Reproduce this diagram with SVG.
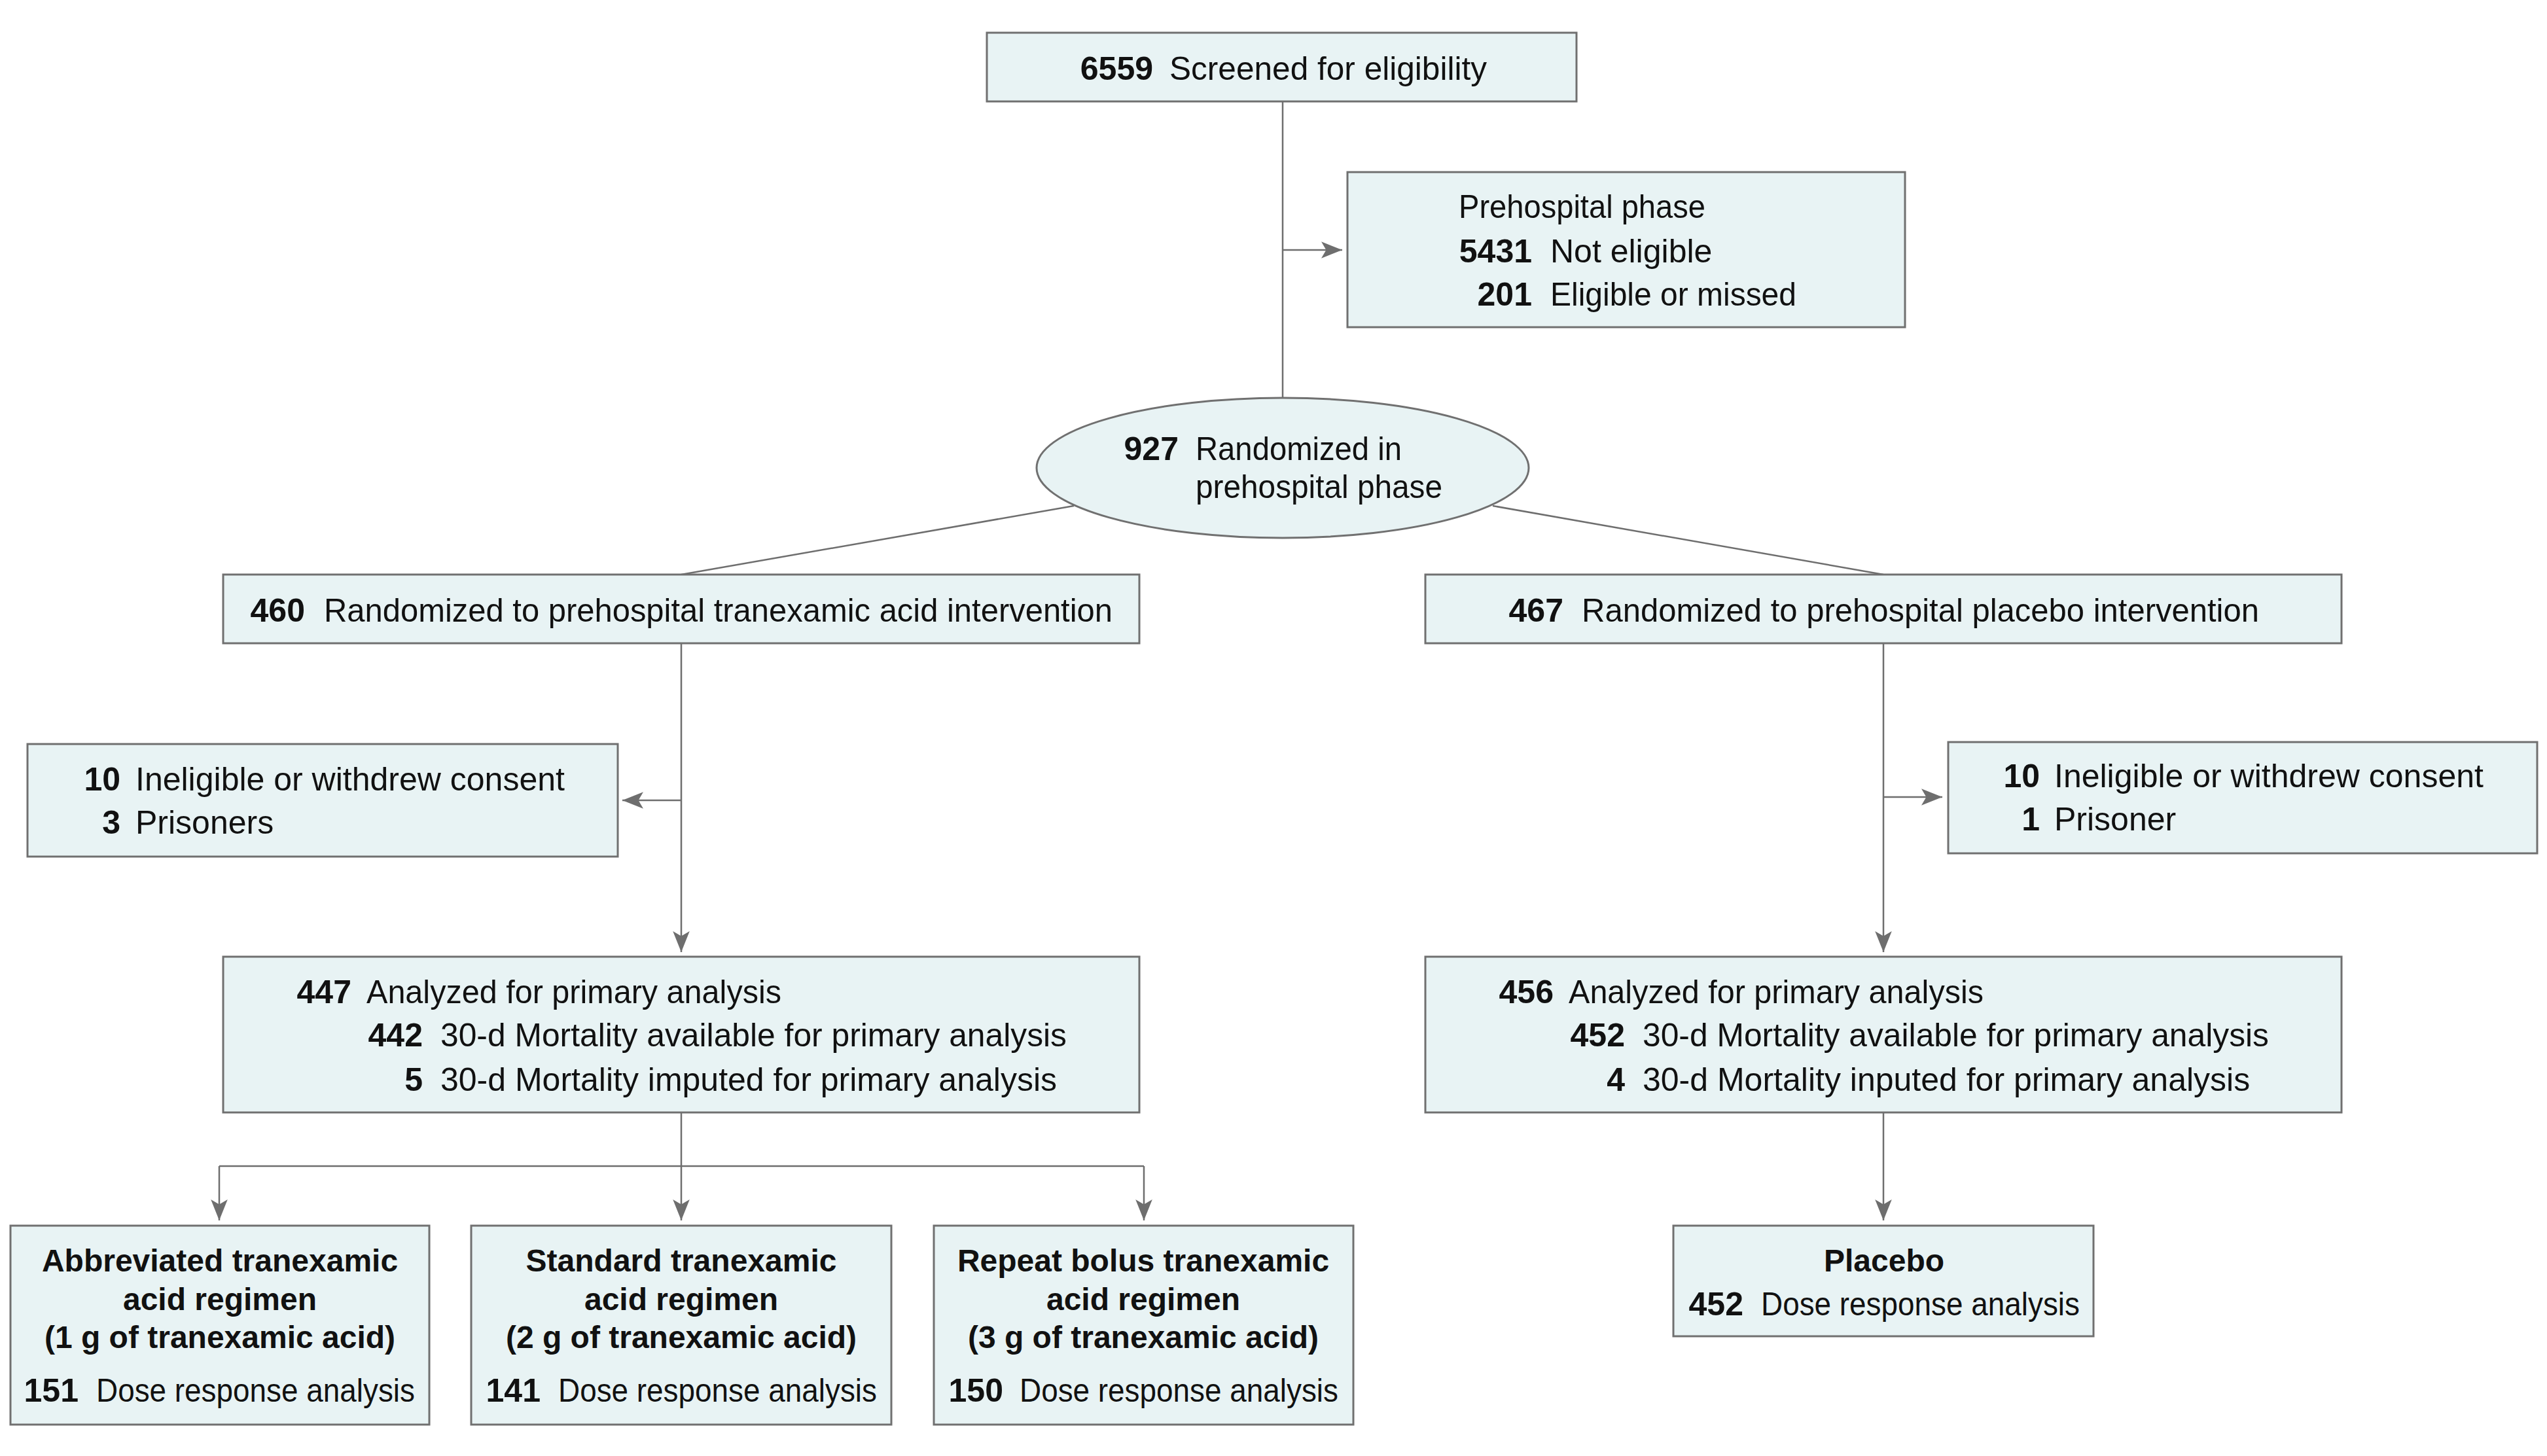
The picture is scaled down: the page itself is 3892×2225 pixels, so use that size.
<svg xmlns="http://www.w3.org/2000/svg" width="3892" height="2225" viewBox="0 0 3892 2225">
<style>
  .box { fill: #e8f3f4; stroke: #707070; stroke-width: 3; }
  .con { fill: none; stroke: #6e6e6e; stroke-width: 2.5; }
  text { font-family: "Liberation Sans", Arial, sans-serif; font-size: 50px; fill: #111; }
  .n { font-weight: bold; text-anchor: end; }
  .b { font-weight: bold; font-size: 48px; text-anchor: middle; }
</style>
<defs>
  <marker id="arr" markerUnits="userSpaceOnUse" markerWidth="32" markerHeight="26" viewBox="0 0 30 24" refX="30" refY="12" orient="auto">
    <path d="M0,0 L30,12 L0,24 L7,12 Z" fill="#6e6e6e"/>
  </marker>
</defs>
<rect width="3892" height="2225" fill="#ffffff"/>
<g id="connectors">
  <line class="con" x1="1960" y1="155" x2="1960" y2="608"/>
  <line class="con" x1="1960" y1="382" x2="2051" y2="382" marker-end="url(#arr)"/>
  <line class="con" x1="1641" y1="773" x2="1041" y2="878"/>
  <line class="con" x1="2281" y1="773" x2="2878" y2="878"/>
  <line class="con" x1="1041" y1="983" x2="1041" y2="1455" marker-end="url(#arr)"/>
  <line class="con" x1="1041" y1="1223" x2="951" y2="1223" marker-end="url(#arr)"/>
  <line class="con" x1="2878" y1="983" x2="2878" y2="1455" marker-end="url(#arr)"/>
  <line class="con" x1="2878" y1="1218" x2="2968" y2="1218" marker-end="url(#arr)"/>
  <line class="con" x1="1041" y1="1700" x2="1041" y2="1782"/>
  <line class="con" x1="335" y1="1782" x2="1748" y2="1782"/>
  <line class="con" x1="335" y1="1782" x2="335" y2="1865" marker-end="url(#arr)"/>
  <line class="con" x1="1041" y1="1782" x2="1041" y2="1865" marker-end="url(#arr)"/>
  <line class="con" x1="1748" y1="1782" x2="1748" y2="1865" marker-end="url(#arr)"/>
  <line class="con" x1="2878" y1="1700" x2="2878" y2="1865" marker-end="url(#arr)"/>
</g>
<g id="screened">
  <rect class="box" x="1508" y="50" width="901" height="105"/>
  <text class="n" x="1762" y="122">6559</text>
  <text x="1787" y="122" textLength="485" lengthAdjust="spacingAndGlyphs">Screened for eligibility</text>
</g>
<g id="prehospital-excluded">
  <rect class="box" x="2059" y="263" width="852" height="237"/>
  <text x="2229" y="333" textLength="377" lengthAdjust="spacingAndGlyphs">Prehospital phase</text>
  <text class="n" x="2341" y="401">5431</text>
  <text x="2369" y="401">Not eligible</text>
  <text class="n" x="2341" y="467">201</text>
  <text x="2369" y="467" textLength="376" lengthAdjust="spacingAndGlyphs">Eligible or missed</text>
</g>
<g id="randomized">
  <ellipse class="box" cx="1960" cy="715" rx="376" ry="107"/>
  <text class="n" x="1801" y="703">927</text>
  <text x="1827" y="703" textLength="315" lengthAdjust="spacingAndGlyphs">Randomized in</text>
  <text x="1827" y="761" textLength="377" lengthAdjust="spacingAndGlyphs">prehospital phase</text>
</g>
<g id="txa-arm">
  <rect class="box" x="341" y="878" width="1400" height="105"/>
  <text class="n" x="466" y="950">460</text>
  <text x="495" y="950" textLength="1205" lengthAdjust="spacingAndGlyphs">Randomized to prehospital tranexamic acid intervention</text>
</g>
<g id="placebo-arm">
  <rect class="box" x="2178" y="878" width="1400" height="105"/>
  <text class="n" x="2389" y="950">467</text>
  <text x="2417" y="950" textLength="1035" lengthAdjust="spacingAndGlyphs">Randomized to prehospital placebo intervention</text>
</g>
<g id="txa-excluded">
  <rect class="box" x="42" y="1137" width="902" height="172"/>
  <text class="n" x="184" y="1208">10</text>
  <text x="207" y="1208">Ineligible or withdrew consent</text>
  <text class="n" x="184" y="1274">3</text>
  <text x="207" y="1274">Prisoners</text>
</g>
<g id="placebo-excluded">
  <rect class="box" x="2977" y="1134" width="900" height="170"/>
  <text class="n" x="3117" y="1203">10</text>
  <text x="3139" y="1203">Ineligible or withdrew consent</text>
  <text class="n" x="3117" y="1269">1</text>
  <text x="3139" y="1269">Prisoner</text>
</g>
<g id="txa-analyzed">
  <rect class="box" x="341" y="1462" width="1400" height="238"/>
  <text class="n" x="537" y="1533">447</text>
  <text x="560" y="1533" textLength="634" lengthAdjust="spacingAndGlyphs">Analyzed for primary analysis</text>
  <text class="n" x="646" y="1599">442</text>
  <text x="673" y="1599" textLength="957" lengthAdjust="spacingAndGlyphs">30-d Mortality available for primary analysis</text>
  <text class="n" x="646" y="1667">5</text>
  <text x="673" y="1667">30-d Mortality imputed for primary analysis</text>
</g>
<g id="placebo-analyzed">
  <rect class="box" x="2178" y="1462" width="1400" height="238"/>
  <text class="n" x="2374" y="1533">456</text>
  <text x="2397" y="1533" textLength="634" lengthAdjust="spacingAndGlyphs">Analyzed for primary analysis</text>
  <text class="n" x="2483" y="1599">452</text>
  <text x="2510" y="1599" textLength="957" lengthAdjust="spacingAndGlyphs">30-d Mortality available for primary analysis</text>
  <text class="n" x="2483" y="1667">4</text>
  <text x="2510" y="1667">30-d Mortality inputed for primary analysis</text>
</g>
<g id="abbreviated">
  <rect class="box" x="16" y="1873" width="640" height="304"/>
  <text class="b" x="336" y="1943">Abbreviated tranexamic</text>
  <text class="b" x="336" y="2002">acid regimen</text>
  <text class="b" x="336" y="2060">(1 g of tranexamic acid)</text>
  <text class="n" x="120" y="2142">151</text>
  <text x="147" y="2142" textLength="487" lengthAdjust="spacingAndGlyphs">Dose response analysis</text>
</g>
<g id="standard">
  <rect class="box" x="720" y="1873" width="642" height="304"/>
  <text class="b" x="1041" y="1943">Standard tranexamic</text>
  <text class="b" x="1041" y="2002">acid regimen</text>
  <text class="b" x="1041" y="2060">(2 g of tranexamic acid)</text>
  <text class="n" x="826" y="2142">141</text>
  <text x="853" y="2142" textLength="487" lengthAdjust="spacingAndGlyphs">Dose response analysis</text>
</g>
<g id="repeat-bolus">
  <rect class="box" x="1427" y="1873" width="641" height="304"/>
  <text class="b" x="1747" y="1943">Repeat bolus tranexamic</text>
  <text class="b" x="1747" y="2002">acid regimen</text>
  <text class="b" x="1747" y="2060">(3 g of tranexamic acid)</text>
  <text class="n" x="1533" y="2142">150</text>
  <text x="1558" y="2142" textLength="487" lengthAdjust="spacingAndGlyphs">Dose response analysis</text>
</g>
<g id="placebo">
  <rect class="box" x="2557" y="1873" width="642" height="169"/>
  <text class="b" x="2879" y="1943">Placebo</text>
  <text class="n" x="2664" y="2010">452</text>
  <text x="2691" y="2010" textLength="487" lengthAdjust="spacingAndGlyphs">Dose response analysis</text>
</g>
</svg>
